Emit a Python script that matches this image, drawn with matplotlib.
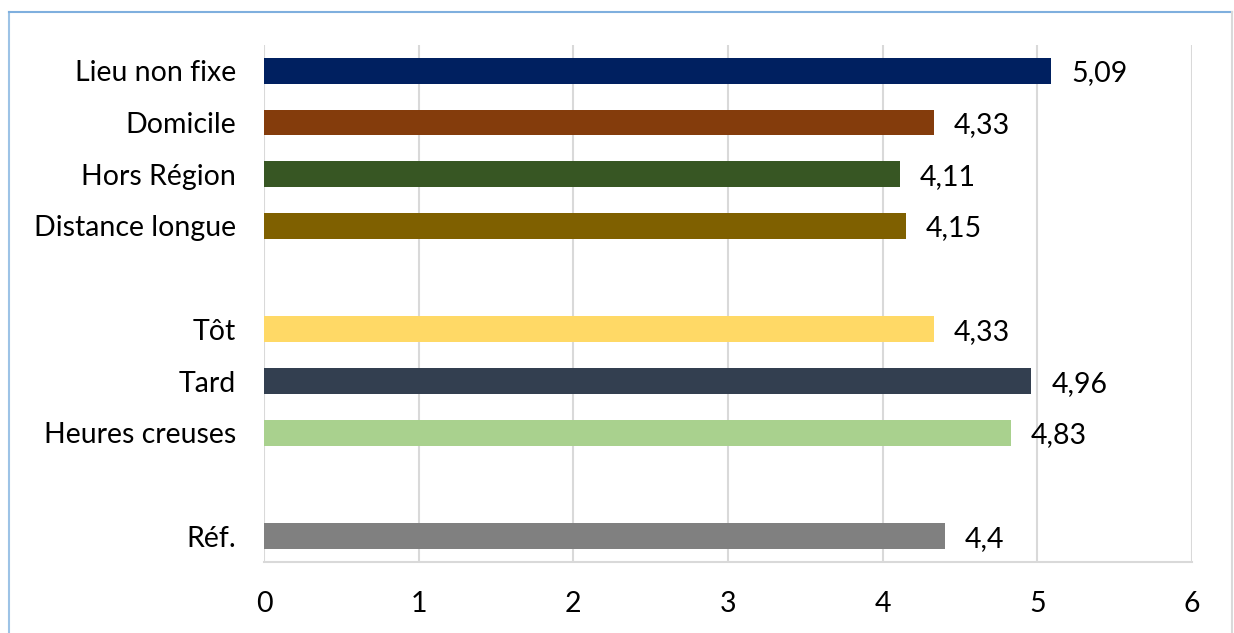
import matplotlib.pyplot as plt
from matplotlib.lines import Line2D

plt.rcParams['font.family'] = ['Lato', 'DejaVu Sans']

categories = ['Lieu non fixe', 'Domicile', 'Hors Région', 'Distance longue',
              'Tôt', 'Tard', 'Heures creuses', 'Réf.']
values = [5.09, 4.33, 4.11, 4.15, 4.33, 4.96, 4.83, 4.4]
labels = ['5,09', '4,33', '4,11', '4,15', '4,33', '4,96', '4,83', '4,4']
colors = ['#002060', '#843C0C', '#375623', '#7F6000',
          '#FFD966', '#333F50', '#A9D18E', '#808080']
slots = [0, 1, 2, 3, 5, 6, 7, 9]  # gaps between groups

fig = plt.figure(figsize=(12.34, 6.33), dpi=100)
ax = fig.add_axes([0.214, 0.112, 0.752, 0.817])

ax.barh(slots, values, height=0.5, color=colors, zorder=3)
for y, v, lab in zip(slots, values, labels):
    ax.text(v + 0.13, y + 0.05, lab, va='center', ha='left', fontsize=20.5, color='black')

ax.set_ylim(9.5, -0.5)
ax.set_xlim(0, 6)
ax.set_yticks(slots)
ax.set_yticklabels(categories, fontsize=20.5)
ax.set_xticks(range(7))
ax.tick_params(axis='x', labelsize=20.5, length=0, pad=21)
ax.tick_params(axis='y', length=0, pad=20)
ax.grid(axis='x', color='#D9D9D9', linewidth=1.5, zorder=0)
for s in ['top', 'right', 'left']:
    ax.spines[s].set_visible(False)
ax.spines['bottom'].set_color('#D9D9D9')
ax.spines['bottom'].set_linewidth(1.5)

# chart area frame
fig.add_artist(Line2D([9 / 1234, 9 / 1234], [0, 1 - 12 / 633], color='#9DC3E6', lw=1.5))
fig.add_artist(Line2D([9 / 1234, 1232 / 1234], [1 - 12 / 633, 1 - 12 / 633], color='#7FAFDE', lw=1.5))
fig.add_artist(Line2D([1232 / 1234, 1232 / 1234], [0, 1 - 12 / 633], color='#D9D9D9', lw=1.5))

fig.savefig('out.png', dpi=100)
